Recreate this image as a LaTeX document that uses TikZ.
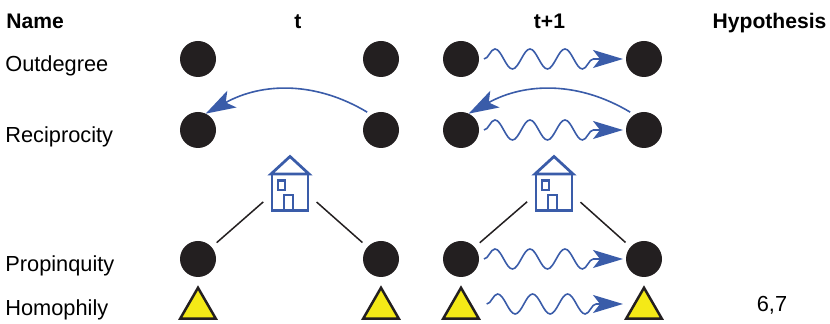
\documentclass[tikz,border=0pt]{standalone}
\usepackage{fontspec}
\setmainfont{Liberation Sans}
\usetikzlibrary{arrows.meta,shapes.geometric,decorations.pathmorphing}
\definecolor{tieblue}{HTML}{3A5CA9}
\definecolor{actorblack}{HTML}{231F20}
\definecolor{attryellow}{HTML}{F4E917}
\tikzset{
  actor/.style={circle,fill=actorblack,inner sep=0pt,outer sep=0pt,minimum size=0.72cm},
  attr/.style={regular polygon,regular polygon sides=3,draw=actorblack,line width=0.05cm,fill=attryellow,inner sep=0pt,outer sep=0pt,minimum size=0.82cm},
  rowlabel/.style={anchor=base west,font=\fontsize{12.4}{14}\selectfont,inner sep=0pt},
  headlabel/.style={anchor=base,font=\fontsize{12}{14}\selectfont\bfseries,inner sep=0pt},
  change/.style={draw=tieblue,line width=0.032cm,-{Stealth[length=0.6cm,width=0.36cm,inset=0.14cm,fill=tieblue]},decorate,decoration={snake,amplitude=0.2cm,segment length=0.7cm,post length=0.52cm}},
  tie/.style={draw=tieblue,line width=0.032cm,-{Stealth[length=0.6cm,width=0.38cm,inset=0.14cm,fill=tieblue]}},
  place/.style={draw=actorblack,line width=0.03cm,shorten <=0.136cm,shorten >=0.71cm},
  pics/house/.style={code={
    \draw [draw=tieblue,line width=0.055cm] (-0.36,0.09) rectangle (0.36,-0.64);
    \draw [draw=tieblue,line width=0.055cm,line join=miter] (-0.38,0.09) -- (0,0.44) -- (0.38,0.09) -- cycle;
    \draw [draw=tieblue,line width=0.045cm] (-0.24,-0.04) rectangle (-0.10,-0.23);
    \draw [draw=tieblue,line width=0.045cm] (-0.12,-0.64) rectangle (0.06,-0.33);
  }},
}
\begin{document}
\begin{tikzpicture}
    \useasboundingbox (0,0) rectangle (16.600000,6.480000);

    % Column heads
    \node [rowlabel,font=\fontsize{12}{14}\selectfont\bfseries] (name) at (0.120000,5.914000) {Name};
    \node [headlabel] (headt) at (5.960000,5.914000) {t};
    \node [headlabel] (headtt) at (10.990000,5.914000) {t+1};
    \node [headlabel] (headhyp) at (15.390000,5.914000) {Hypothesis};

    % Row names
    \node [rowlabel] (outdegree) at (0.100000,5.050000) {Outdegree};
    \node [rowlabel] (reciprocity) at (0.100000,3.620000) {Reciprocity};
    \node [rowlabel] (propinquity) at (0.100000,1.046000) {Propinquity};
    \node [rowlabel] (homophily) at (0.100000,0.160000) {Homophily};
    \node [headlabel,font=\fontsize{12.4}{14}\selectfont] (hypvalue) at (15.440000,0.246000) {6,7};

    % Outdegree row
    \node [actor] (oa) at (3.960000,5.300000) {};
    \node [actor] (ob) at (7.620000,5.300000) {};
    \node [actor] (oc) at (9.220000,5.300000) {};
    \node [actor] (od) at (12.880000,5.300000) {};
    \draw [change] ([xshift=0.100000cm]oc.east) -- ([xshift=-0.060000cm]od.west);

    % Reciprocity row
    \node [actor] (ra) at (3.960000,3.880000) {};
    \node [actor] (rb) at (7.620000,3.880000) {};
    \node [actor] (rc) at (9.220000,3.880000) {};
    \node [actor] (rd) at (12.880000,3.880000) {};
    \draw [tie,shorten <=0.100000cm] (rb.122) to [out=149,in=29] (ra.65);
    \draw [tie,shorten <=0.100000cm] (rd.122) to [out=149,in=29] (rc.65);
    \draw [change] ([xshift=0.100000cm]rc.east) -- ([xshift=-0.060000cm]rd.west);

    % Houses
    \coordinate (housea) at (5.800000,2.910000);
    \coordinate (houseb) at (11.080000,2.910000);
    \pic at (housea) {house};
    \pic at (houseb) {house};

    % Propinquity row
    \node [actor] (pa) at (3.960000,1.300000) {};
    \node [actor] (pb) at (7.620000,1.300000) {};
    \node [actor] (pc) at (9.220000,1.300000) {};
    \node [actor] (pd) at (12.880000,1.300000) {};
    \draw [place] (pa) -- (housea);
    \draw [place] (pb) -- (housea);
    \draw [place] (pc) -- (houseb);
    \draw [place] (pd) -- (houseb);
    \draw [change] ([xshift=0.100000cm]pc.east) -- ([xshift=-0.060000cm]pd.west);

    % Homophily row
    \node [attr] (ha) at (3.960000,0.314000) {};
    \node [attr] (hb) at (7.620000,0.314000) {};
    \node [attr] (hc) at (9.220000,0.314000) {};
    \node [attr] (hd) at (12.880000,0.314000) {};
    \draw [change] ([shift={(0.514000,0.086000)}]hc.center) -- ([shift={(-0.420000,0.086000)}]hd.center);
\end{tikzpicture}
\end{document}
